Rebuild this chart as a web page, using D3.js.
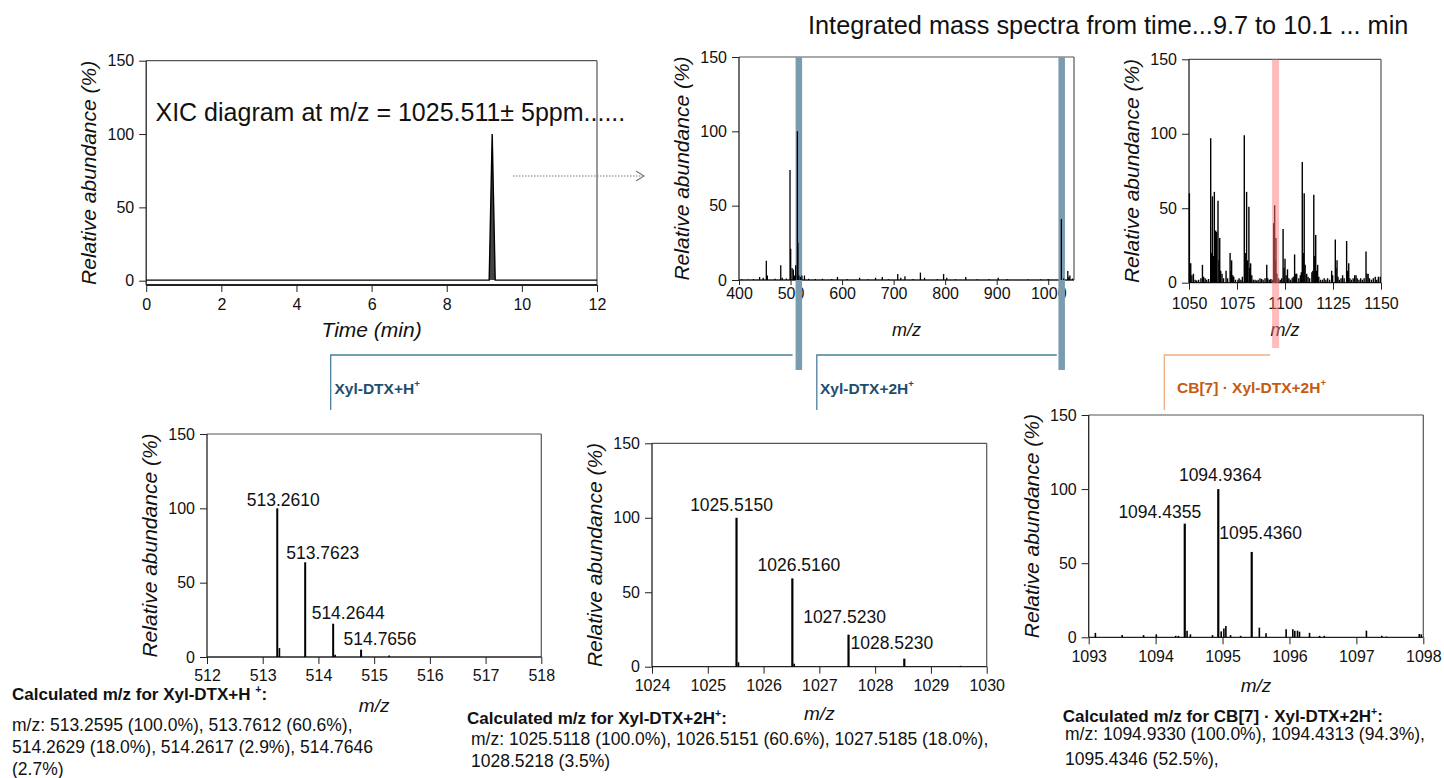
<!DOCTYPE html>
<html>
<head>
<meta charset="utf-8">
<script src="https://cdn.jsdelivr.net/npm/d3@7"></script>
<style>
body { margin: 0; background: #fff; }
svg { display: block; font-family: "Liberation Sans", Arial, sans-serif; }
</style>
</head>
<body>
<svg id="fig" width="1444" height="778"></svg>
<script>
// ---- data ----
const yTicks = [0, 50, 100, 150];

// XIC at m/z 1025.511
const xicTime = [0, 9.13, 9.21, 9.29, 12];
const xicAbund = [0.4, 0.4, 100, 0.4, 0.4];
const xicTicks = [0, 2, 4, 6, 8, 10, 12];

// integrated spectrum 400-1050
const widePeaks = [
  [405, 0.5], [418, 0.4], [428, 0.6], [440, 2], [447, 1.5], [453, 13], [455, 3], [470, 0.8],
  [481, 10], [484, 1.5], [492, 1], [499, 74], [500.3, 21], [503, 8], [505.5, 7], [508, 3],
  [510, 10], [513.3, 100], [514.3, 25], [516, 3], [519, 2], [522, 3], [527, 3], [535, 0.8],
  [548, 0.6], [562, 0.8], [580, 0.6], [591, 2], [610, 0.6], [634, 1.5], [650, 0.5], [665, 1.5],
  [678, 2], [690, 0.6], [708, 4], [714, 1.5], [722, 2.5], [738, 0.6], [752, 5], [760, 1.5],
  [785, 0.6], [797, 4], [803, 1.5], [820, 0.5], [840, 2], [862, 0.5], [885, 0.6], [903, 1.5],
  [920, 0.6], [960, 0.4], [985, 0.5], [1000, 0.6], [1025.5, 41], [1030, 1], [1038, 6],
  [1040, 2], [1042, 3], [1047, 1]
];
const wideTicks = [400, 500, 600, 700, 800, 900, 1000];

// integrated spectrum 1050-1150
const zoomPeaks = [
  [1050.2, 60], [1050.9, 13], [1051.5, 5], [1052.3, 6], [1053.2, 2], [1054, 1.5], [1055, 2],
  [1056.2, 3], [1057, 12], [1057.6, 4], [1058.4, 3], [1059.2, 2], [1060.2, 2.5], [1061.3, 97],
  [1061.7, 20], [1062.2, 58], [1062.7, 18], [1063.2, 61], [1063.6, 25], [1063.9, 35],
  [1064.4, 34], [1065.1, 55], [1065.6, 15], [1066, 30], [1066.5, 8], [1067.2, 6], [1068, 3],
  [1069.3, 8], [1070.1, 3], [1071.4, 20], [1071.8, 8], [1072.2, 15], [1072.8, 5], [1073.3, 4],
  [1074.2, 2], [1075.5, 2], [1076.1, 3], [1077, 2], [1077.8, 4], [1078.8, 99], [1079.3, 20],
  [1080, 61], [1080.5, 15], [1081.2, 51], [1081.6, 10], [1082.1, 13], [1082.7, 5], [1083.5, 2],
  [1084.4, 2], [1085.2, 1.5], [1086, 2], [1087, 3], [1087.8, 2.5], [1088.6, 2], [1089.6, 3],
  [1090.5, 12], [1091, 3], [1091.8, 2], [1092.6, 2.5], [1093.4, 2], [1094.1, 40], [1094.6, 52],
  [1095, 15], [1095.3, 30], [1095.8, 6], [1096.6, 3], [1097.5, 2], [1098.3, 3], [1099, 36],
  [1099.5, 10], [1100, 16], [1100.6, 5], [1101.3, 9], [1102, 3], [1102.8, 2], [1103.7, 3],
  [1104.3, 4], [1105, 19], [1105.6, 6], [1106.1, 6], [1107.2, 3], [1108, 5], [1108.5, 7],
  [1109, 81], [1109.5, 20], [1110, 60], [1110.5, 12], [1111.3, 6], [1112, 4], [1112.8, 3],
  [1114, 7], [1114.5, 8], [1115, 59], [1115.5, 18], [1116, 32], [1116.5, 8], [1117, 12],
  [1117.6, 4], [1118.5, 2], [1119.5, 2], [1120.4, 3], [1121.3, 2], [1122.2, 3], [1123.2, 2],
  [1124.3, 8], [1124.8, 5], [1126.2, 29], [1126.6, 10], [1127.1, 15], [1127.6, 4], [1128.3, 2],
  [1129.2, 3], [1130, 5], [1130.8, 3], [1132.1, 28], [1132.6, 8], [1133.2, 13], [1133.8, 3],
  [1134.6, 2], [1135.5, 3], [1136.3, 5], [1137, 5], [1137.6, 3], [1138.5, 2], [1139.4, 3],
  [1140.3, 2], [1141.2, 3], [1142.2, 21], [1142.7, 6], [1143.3, 6], [1144, 3], [1145, 2],
  [1146, 3], [1147, 4], [1147.8, 2], [1148.6, 4], [1149.6, 4]
];
const zoomTicks = [1050, 1075, 1100, 1125, 1150];

// Xyl-DTX+H+ isotope cluster
const mh1Main = [[513.2610, 100], [513.7623, 63.7], [514.2644, 22.4], [514.7656, 4.9]];
const mh1Minor = [[513.30, 6], [514.30, 1.5], [515.27, 1]];
const mh1Ticks = [512, 513, 514, 515, 516, 517, 518];

// Xyl-DTX+2H+ isotope cluster
const mh2Main = [[1025.5150, 100], [1026.5160, 59.3], [1027.5230, 21.5], [1028.5230, 5.4]];
const mh2Minor = [[1025.55, 3], [1026.55, 2], [1029.53, 0.6]];
const mh2Ticks = [1024, 1025, 1026, 1027, 1028, 1029, 1030];

// CB[7].Xyl-DTX+2H+ cluster
const cbMain = [[1094.4355, 76.7], [1094.9364, 100], [1095.4360, 57.6]];
const cbMinor = [
  [1093.1, 3], [1093.5, 1.5], [1093.82, 1.5], [1094.01, 2], [1094.3, 1], [1094.34, 1],
  [1094.47, 4.5], [1094.52, 2], [1094.85, 1.5], [1094.98, 4], [1095.02, 6], [1095.05, 7.6],
  [1095.12, 1.5], [1095.27, 1], [1095.55, 6.5], [1095.65, 2.7], [1095.95, 5.4], [1096.05, 5.4],
  [1096.08, 4.5], [1096.12, 4.5], [1096.15, 3.8], [1096.3, 3], [1096.45, 1], [1096.52, 1],
  [1097.15, 4.5], [1097.38, 1], [1097.45, 0.5], [1097.94, 2.2], [1097.97, 2]
];
const cbTicks = [1093, 1094, 1095, 1096, 1097, 1098];

// calculated isotope text
const mh1Calc = ["m/z: 513.2595 (100.0%), 513.7612 (60.6%),",
                 "514.2629 (18.0%), 514.2617 (2.9%), 514.7646",
                 "(2.7%)"];
const mh2Calc = ["m/z: 1025.5118 (100.0%), 1026.5151 (60.6%), 1027.5185 (18.0%),",
                 "1028.5218 (3.5%)"];
const cbCalc = ["m/z: 1094.9330 (100.0%), 1094.4313 (94.3%),",
                "1095.4346 (52.5%),"];

// ---- drawing ----
const svg = d3.select("#fig");
const fmt4 = d3.format(".4f");
const blueBand = "#7b9cb0", blueLine = "#4a7e9f", blueText = "#1f4e6d";
const orangeLine = "#f2ae80", orangeText = "#c55a11";

function panel(p) {
    const g = svg.append("g");
    const x = d3.scaleLinear().domain(p.dom).range([p.x0, p.x1]);
    const y = d3.scaleLinear().domain([0, 150]).range([p.zero, p.top]);
    const axisY = p.axisY ?? p.zero;

    // frame
    g.append("line").attr("x1", p.x0).attr("x2", p.x1).attr("y1", p.top).attr("y2", p.top)
        .attr("stroke", "#555").attr("stroke-width", 1.2);
    g.append("line").attr("x1", p.x1).attr("x2", p.x1).attr("y1", p.top).attr("y2", axisY)
        .attr("stroke", "#555").attr("stroke-width", 1.2);
    g.append("line").attr("x1", p.x0).attr("x2", p.x0).attr("y1", p.top).attr("y2", axisY)
        .attr("stroke", "#222").attr("stroke-width", 1.3);
    g.append("line").attr("x1", p.x0).attr("x2", p.x1).attr("y1", axisY).attr("y2", axisY)
        .attr("stroke", "#222").attr("stroke-width", p.axisY ? 2 : 1.3);

    const xAxis = g.append("g")
        .attr("transform", `translate(0,${axisY})`)
        .call(d3.axisBottom(x).tickValues(p.ticks).tickSize(p.tick || 7)
            .tickPadding(p.pad || 6).tickSizeOuter(0).tickFormat(d3.format("d")));
    const yAxis = g.append("g")
        .attr("transform", `translate(${p.x0},0)`)
        .call(d3.axisLeft(y).tickValues(yTicks).tickSize(7).tickPadding(5).tickSizeOuter(0));
    [xAxis, yAxis].forEach(a => {
        a.select(".domain").remove();
        a.attr("font-family", null).attr("font-size", 16).attr("color", "#222");
        a.selectAll("text").attr("fill", "#111");
    });

    // axis titles
    g.append("text")
        .attr("transform", `translate(${p.x0 - 50},${(p.top + axisY) / 2}) rotate(-90)`)
        .attr("text-anchor", "middle").attr("font-style", "italic").attr("font-size", 21)
        .attr("fill", "#111").text("Relative abundance (%)");
    g.append("text")
        .attr("x", (p.x0 + p.x1) / 2).attr("y", p.xlabelY)
        .attr("text-anchor", "middle").attr("font-style", "italic")
        .attr("font-size", p.xfs || 19).attr("fill", "#111").text(p.xlabel || "m/z");

    return { g, x, y };
}

function sticks(g, x, y, peaks, width) {
    g.append("g").selectAll("line").data(peaks).enter().append("line")
        .attr("x1", d => x(d[0])).attr("x2", d => x(d[0]))
        .attr("y1", y(0)).attr("y2", d => y(d[1]))
        .attr("stroke", "#000").attr("stroke-width", width);
}

function peakLabels(g, x, y, peaks, offsets) {
    g.append("g").selectAll("text").data(peaks).enter().append("text")
        .attr("x", (d, i) => x(d[0]) + offsets[i][0])
        .attr("y", (d, i) => y(d[1]) + offsets[i][1])
        .attr("text-anchor", "middle").attr("font-size", 17.5).attr("fill", "#111")
        .text(d => fmt4(d[0]));
}

// rich text: segments [string, isSuperscript]
function rich(x, y, segs, opts) {
    const t = svg.append("text").attr("x", x).attr("y", y)
        .attr("font-size", opts.size).attr("font-weight", opts.weight || null)
        .attr("fill", opts.color || "#111");
    const shift = opts.size * 0.42;
    let up = false;
    segs.forEach(([s, sup]) => {
        const ts = t.append("tspan").text(s);
        if (sup && !up) { ts.attr("dy", -shift).attr("font-size", opts.size * 0.62); up = true; }
        else if (!sup && up) { ts.attr("dy", shift); up = false; }
    });
}

function lines(x, ys, rows, size) {
    rows.forEach((r, i) => {
        svg.append("text").attr("x", x).attr("y", ys[i]).attr("font-size", size)
            .attr("fill", "#111").text(r);
    });
}

// panel 1: XIC
const p1 = panel({ dom: [0, 12], ticks: xicTicks, x0: 146.2, x1: 597, top: 60.7, zero: 280.7,
    axisY: 285, pad: 7, xlabel: "Time (min)", xlabelY: 337, xfs: 21 });
p1.g.append("path")
    .datum(d3.zip(xicTime, xicAbund))
    .attr("d", d3.line().x(d => p1.x(d[0])).y(d => p1.y(d[1])))
    .attr("fill", "#444").attr("stroke", "#000").attr("stroke-width", 1.4);
svg.append("text").attr("x", 155.5).attr("y", 121).attr("font-size", 25).attr("fill", "#111")
    .text("XIC diagram at m/z = 1025.511\u00b1 5ppm......");

// dotted arrow
svg.append("line").attr("x1", 513).attr("x2", 643).attr("y1", 176).attr("y2", 176)
    .attr("stroke", "#777").attr("stroke-width", 1.1).attr("stroke-dasharray", "1.5,1.5");
svg.append("path").attr("d", "M636,171 L644,176 L636,181")
    .attr("fill", "none").attr("stroke", "#777").attr("stroke-width", 1.1);

// title
svg.append("text").attr("x", 808).attr("y", 34).attr("font-size", 25.3).attr("fill", "#111")
    .text("Integrated mass spectra from time...9.7 to 10.1 ... min");

// panel 2: wide spectrum
const p2 = panel({ dom: [400, 1050], ticks: wideTicks, x0: 739, x1: 1074, top: 57, zero: 280,
    tick: 5, pad: 3, xlabelY: 336, xfs: 18 });
[515.6, 1025.6].forEach(m => {
    p2.g.append("rect").attr("x", p2.x(m) - 3).attr("width", 6.5)
        .attr("y", p2.y(150)).attr("height", 370 - p2.y(150)).attr("fill", blueBand);
});
sticks(p2.g, p2.x, p2.y, widePeaks, 1.3);

// panel 3: 1050-1150
const p3 = panel({ dom: [1050, 1150], ticks: zoomTicks, x0: 1189, x1: 1381, top: 59.3, zero: 282.7,
    tick: 7, pad: 8, xlabelY: 336, xfs: 18 });
sticks(p3.g, p3.x, p3.y, zoomPeaks, 1.4);
p3.g.append("rect").attr("x", p3.x(1095.1) - 3.5).attr("width", 7)
    .attr("y", p3.y(150)).attr("height", 348 - p3.y(150))
    .attr("fill", "#ff7a7a").attr("opacity", 0.5);

// connectors
const conn = [
    { pts: [[330.7, 410], [330.7, 355], [792.6, 355]], c: blueLine },
    { pts: [[816.8, 410], [816.8, 355], [1056.8, 355]], c: blueLine },
    { pts: [[1164.3, 410], [1164.3, 355], [1270, 355]], c: orangeLine }
];
conn.forEach(k => {
    svg.append("path").attr("d", d3.line()(k.pts)).attr("fill", "none")
        .attr("stroke", k.c).attr("stroke-width", 1.3);
});
rich(334.5, 394, [["Xyl-DTX+H", false], ["+", true]], { size: 15.5, weight: "bold", color: blueText });
rich(820, 394, [["Xyl-DTX+2H", false], ["+", true]], { size: 15.5, weight: "bold", color: blueText });
rich(1177, 393, [["CB[7] \u00b7 Xyl-DTX+2H", false], ["+", true]], { size: 15.5, weight: "bold", color: orangeText });

// panel 4: Xyl-DTX+H+
const p4 = panel({ dom: [512, 518], ticks: mh1Ticks, x0: 207, x1: 541.3, top: 434, zero: 657,
    xlabelY: 712 });
sticks(p4.g, p4.x, p4.y, mh1Minor, 1.6);
sticks(p4.g, p4.x, p4.y, mh1Main, 2);
peakLabels(p4.g, p4.x, p4.y, mh1Main, [[6, -2], [17.5, -3], [15, -5], [19, -5]]);
rich(12, 700, [["Calculated m/z for Xyl-DTX+H ", false], ["+", true], [":", false]], { size: 17, weight: "bold" });
lines(12, [731, 753, 775], mh1Calc, 17.5);

// panel 5: Xyl-DTX+2H+
const p5 = panel({ dom: [1024, 1030], ticks: mh2Ticks, x0: 652, x1: 986.7, top: 443.3, zero: 666.7,
    xlabelY: 720 });
sticks(p5.g, p5.x, p5.y, mh2Minor, 1.6);
sticks(p5.g, p5.x, p5.y, mh2Main, 2.2);
peakLabels(p5.g, p5.x, p5.y, mh2Main, [[-5, -7], [6.5, -7], [-4, -12], [-12.5, -10]]);
rich(467, 724, [["Calculated m/z for Xyl-DTX+2H", false], ["+", true], [":", false]], { size: 17, weight: "bold" });
lines(471, [745, 767], mh2Calc, 17.5);

// panel 6: CB[7] complex
const p6 = panel({ dom: [1093, 1098], ticks: cbTicks, x0: 1088.7, x1: 1423.3, top: 415, zero: 637.3,
    xlabelY: 692 });
sticks(p6.g, p6.x, p6.y, cbMinor, 1.6);
sticks(p6.g, p6.x, p6.y, cbMain, 2.2);
peakLabels(p6.g, p6.x, p6.y, cbMain, [[-25, -6], [2, -8], [9, -13]]);
rich(1062.7, 722, [["Calculated m/z for CB[7] \u00b7 Xyl-DTX+2H", false], ["+", true], [":", false]], { size: 17, weight: "bold" });
lines(1065, [740, 765], cbCalc, 17.5);
</script>
</body>
</html>
